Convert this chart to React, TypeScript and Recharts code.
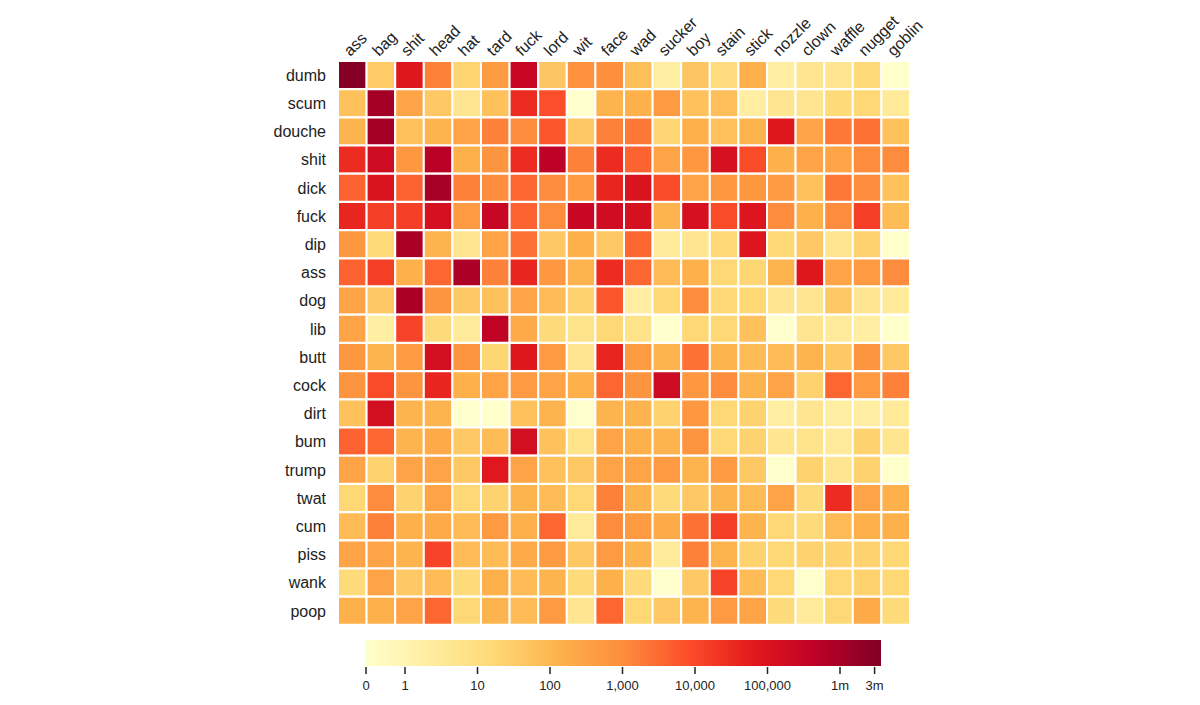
import { Bar, BarChart, Cell, XAxis, YAxis } from "recharts";

const rows = [
  "dumb", "scum", "douche", "shit", "dick", "fuck", "dip", "ass", "dog", "lib",
  "butt", "cock", "dirt", "bum", "trump", "twat", "cum", "piss", "wank", "poop",
];

const cols = [
  "ass", "bag", "shit", "head", "hat", "tard", "fuck", "lord", "wit", "face",
  "wad", "sucker", "boy", "stain", "stick", "nozzle", "clown", "waffle", "nugget", "goblin",
];

// estimated counts, one array per row word (columns in `cols` order)
const counts: number[][] = [
  [3000000, 35, 80000, 1500, 22, 500, 280000, 45, 800, 900, 70, 2, 45, 12, 150, 2, 5, 5, 15, 0],
  [60, 1100000, 250, 40, 5, 60, 30000, 8000, 0, 120, 150, 500, 60, 70, 2, 5, 5, 15, 18, 3],
  [120, 1100000, 60, 120, 300, 1500, 1000, 6000, 40, 1500, 2000, 20, 150, 60, 120, 80000, 300, 2000, 2500, 60],
  [30000, 200000, 600, 500000, 150, 700, 30000, 450000, 1500, 30000, 4000, 300, 600, 120000, 9000, 150, 300, 300, 1000, 1000],
  [4000, 100000, 4000, 1000000, 1500, 1000, 3500, 1000, 500, 40000, 100000, 9000, 300, 600, 600, 500, 60, 2000, 1000, 60],
  [40000, 15000, 15000, 130000, 500, 280000, 4000, 1000, 280000, 180000, 130000, 120, 130000, 9000, 90000, 1000, 150, 1000, 15000, 80],
  [600, 15, 900000, 120, 5, 300, 2500, 40, 150, 40, 3500, 3, 5, 18, 90000, 18, 40, 5, 25, 0],
  [4000, 15000, 150, 3500, 800000, 1500, 40000, 600, 120, 30000, 3500, 80, 150, 18, 20, 120, 80000, 300, 500, 1000],
  [300, 40, 900000, 700, 40, 60, 300, 80, 25, 6000, 2, 18, 1000, 18, 18, 5, 5, 40, 5, 3],
  [300, 2, 12000, 14, 3, 400000, 200, 14, 6, 18, 6, 0, 18, 18, 60, 0, 5, 3, 2, 0],
  [600, 120, 500, 150000, 700, 20, 80000, 500, 5, 40000, 500, 120, 2500, 120, 80, 80, 120, 40, 700, 40],
  [700, 9000, 700, 40000, 150, 300, 500, 300, 150, 3500, 700, 200000, 600, 1000, 120, 300, 25, 3500, 500, 1500],
  [60, 150000, 120, 120, 0, 0, 60, 120, 0, 120, 120, 25, 600, 18, 25, 2, 5, 2, 2, 3],
  [4000, 3500, 120, 200, 40, 80, 150000, 60, 6, 300, 150, 120, 700, 18, 25, 5, 6, 3, 25, 5],
  [300, 25, 300, 300, 40, 70000, 300, 60, 40, 300, 300, 500, 120, 500, 40, 0, 25, 5, 25, 0],
  [18, 1000, 25, 300, 18, 25, 120, 80, 18, 1500, 120, 14, 40, 120, 80, 300, 14, 30000, 300, 150],
  [80, 1500, 150, 200, 80, 500, 150, 3500, 3, 1000, 500, 200, 2500, 15000, 120, 18, 14, 80, 150, 150],
  [300, 300, 120, 12000, 80, 80, 200, 500, 40, 500, 120, 3, 1500, 120, 25, 18, 25, 25, 25, 18],
  [14, 300, 40, 80, 14, 150, 80, 120, 14, 150, 14, 0, 40, 12000, 80, 18, 0, 18, 25, 18],
  [150, 150, 300, 3500, 18, 120, 80, 500, 5, 3500, 18, 40, 120, 500, 300, 14, 3, 18, 200, 14],
];

const legendTicks = [0, 1, 10, 100, 1000, 10000, 100000, 1000000, 3000000];
const legendLabels = ["0", "1", "10", "100", "1,000", "10,000", "100,000", "1m", "3m"];

const palette = [
  "#ffffcc", "#ffeda0", "#fed976", "#feb24c", "#fd8d3c",
  "#fc4e2a", "#e31a1c", "#bd0026", "#800026",
];

const BAR_X = 365;
const BAR_W = 516;

// position along the colour bar (0..1), log scale with a linear piece below 1
function scalePos(v: number) {
  const px = v < 1 ? 366 + v * 39 : 405 + 72.5 * Math.log10(v);
  return Math.min(1, Math.max(0, (px - BAR_X) / BAR_W));
}

function hex(c: string) {
  return [1, 3, 5].map((i) => parseInt(c.slice(i, i + 2), 16));
}

function colorAt(t: number) {
  const f = t * (palette.length - 1);
  const i = Math.min(palette.length - 2, Math.floor(f));
  const k = f - i;
  const a = hex(palette[i]);
  const b = hex(palette[i + 1]);
  const m = a.map((x, j) => Math.round(x + (b[j] - x) * k));
  return `rgb(${m[0]},${m[1]},${m[2]})`;
}

const tableData = rows.map((r) => {
  const o: Record<string, number | string> = { row: r };
  cols.forEach((_, j) => (o[`c${j}`] = 1));
  return o;
});

const font = "Arial, 'Liberation Sans', sans-serif";

const TopTick = (props: any) => {
  const { x, y, payload } = props;
  const label = cols[Math.floor(payload.value)];
  const ax = x - 2;
  return (
    <text
      x={ax}
      y={y}
      transform={`rotate(-45, ${ax}, ${y})`}
      fontSize={16}
      fill="#222"
      textAnchor="start"
      fontFamily={font}
    >
      {label}
    </text>
  );
};

function ColorBar() {
  return (
    <svg
      width={1200}
      height={705}
      style={{ position: "absolute", left: 0, top: 0, pointerEvents: "none" }}
    >
      <defs>
        <linearGradient id="ylorrd" x1="0" y1="0" x2="1" y2="0">
          {palette.map((c, i) => (
            <stop key={c} offset={`${(i / (palette.length - 1)) * 100}%`} stopColor={c} />
          ))}
        </linearGradient>
      </defs>
      <rect x={BAR_X} y={640} width={BAR_W} height={26} fill="url(#ylorrd)" />
      {legendTicks.map((v, i) => {
        const x = BAR_X + scalePos(v) * BAR_W;
        return (
          <g key={v}>
            <line x1={x} x2={x} y1={667} y2={674} stroke="#222" strokeWidth={1.5} />
            <text x={x} y={690} fontSize={13} textAnchor="middle" fill="#222" fontFamily={font}>
              {legendLabels[i]}
            </text>
          </g>
        );
      })}
    </svg>
  );
}

export default function App() {
  return (
    <div style={{ position: "absolute", left: 0, top: 0, width: 1200, height: 705, background: "#fff" }}>
      <BarChart
        width={1200}
        height={705}
        data={tableData}
        layout="vertical"
        barCategoryGap={0}
        margin={{ top: 0, right: 290, bottom: 80, left: 0 }}
        style={{ fontFamily: font }}
      >
        <XAxis
          type="number"
          orientation="top"
          domain={[0, 20]}
          ticks={cols.map((_, j) => j + 0.5)}
          interval={0}
          height={61}
          axisLine={false}
          tickLine={false}
          tickSize={0}
          tickMargin={4}
          tick={<TopTick />}
        />
        <YAxis
          type="category"
          dataKey="row"
          width={338}
          axisLine={false}
          tickLine={false}
          tickSize={0}
          tickMargin={12}
          interval={0}
          tick={{ fontSize: 16, fill: "#222" }}
        />
        {cols.map((c, j) => (
          <Bar
            key={c}
            dataKey={`c${j}`}
            stackId="cells"
            stroke="#fff"
            strokeWidth={2}
            isAnimationActive={false}
          >
            {rows.map((r, i) => (
              <Cell key={r} fill={colorAt(scalePos(counts[i][j]))} />
            ))}
          </Bar>
        ))}
      </BarChart>
      <ColorBar />
    </div>
  );
}
